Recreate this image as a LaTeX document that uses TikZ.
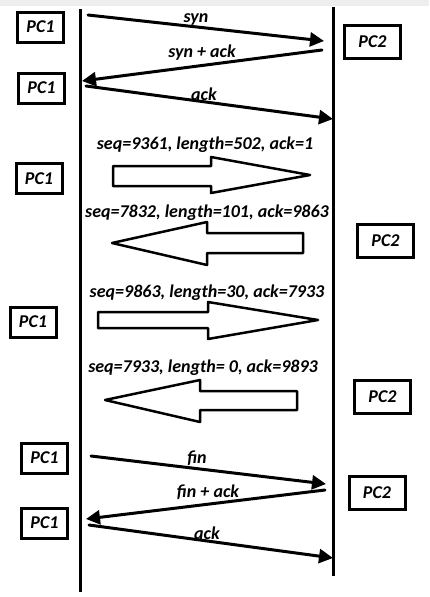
\documentclass[tikz,border=0pt]{standalone}
\usepackage{fontspec}
\setmainfont{Carlito}
\usepackage{xcolor}
\usetikzlibrary{arrows.meta}
\definecolor{ink}{HTML}{000000}
\definecolor{strip}{HTML}{EEEEEE}
\tikzset{
  life/.style={draw=ink, line width=3pt},
  msg/.style={draw=ink, line width=3pt, line cap=round, -{Triangle[length=14pt,width=14pt]}},
  blk/.style={draw=ink, fill=white, line width=2.5pt, line join=round},
  lab/.style={text=ink, font=\fontsize{18}{21}\selectfont\bfseries\itshape, inner sep=0pt},
  pcone/.style={lab, draw=ink, line width=3pt, minimum width=46pt, minimum height=30pt},
  pctwo/.style={lab, draw=ink, line width=3pt, minimum width=56pt, minimum height=33pt},
}
\begin{document}
\begin{tikzpicture}[x=1pt,y=-1pt]
  \useasboundingbox (0,0) rectangle (429,597);
  \fill[strip] (0,0) rectangle (429,6);

  % lifelines
  \coordinate (L1) at (80,9);
  \coordinate (L2) at (80,592);
  \coordinate (R1) at (333,7);
  \coordinate (R2) at (333,576);
  \draw[life] (L1)--(L2);
  \draw[life] (R1)--(R2);

  % hosts
  \node[pcone] (pcA) at (40.5,27) {PC1};
  \node[pctwo] (pcB) at (372.5,42) {PC2};
  \node[pcone] (pcC) at (41.5,88) {PC1};
  \node[pcone] (pcD) at (39,178.5) {PC1};
  \node[pctwo] (pcE) at (385.5,241) {PC2};
  \node[pcone] (pcF) at (33,322) {PC1};
  \node[pctwo] (pcG) at (382.5,397) {PC2};
  \node[pcone] (pcH) at (44.5,458) {PC1};
  \node[pctwo] (pcI) at (377,493) {PC2};
  \node[pcone] (pcJ) at (44.5,523) {PC1};

  % handshake
  \coordinate (synS) at (88,15);
  \coordinate (synE) at (324,41);
  \coordinate (saS) at (322,50);
  \coordinate (saE) at (82,81);
  \coordinate (ackS) at (86,86);
  \coordinate (ackE) at (333,119);
  \draw[msg] (synS)--(synE);
  \draw[msg] (saS)--(saE);
  \draw[msg] (ackS)--(ackE);
  \node[lab] (synL) at (196,19) {syn};
  \node[lab] (saL) at (202,53) {syn + ack};
  \node[lab] (ackL) at (204,94) {ack};

  % data segments
  \draw[blk] (113,166)--(211,166)--(211,157)--(310,175)--(211,193)--(211,186)--(113,186)--cycle;
  \node[lab] (segA) at (205,145) {seq=9361, length=502, ack=1};
  \draw[blk] (303,233)--(207,233)--(207,222)--(112,243)--(207,265)--(207,253)--(303,253)--cycle;
  \node[lab] (segB) at (207,213) {seq=7832, length=101, ack=9863};
  \draw[blk] (98,312)--(208,312)--(208,302)--(318,320)--(208,339)--(208,328)--(98,328)--cycle;
  \node[lab] (segC) at (207,293) {seq=9863, length=30, ack=7933};
  \draw[blk] (297,391)--(200,391)--(200,380)--(105,400)--(200,422)--(200,410)--(297,410)--cycle;
  \node[lab] (segD) at (203,368) {seq=7933, length= 0, ack=9893};

  % teardown
  \coordinate (finS) at (91,456);
  \coordinate (finE) at (326,484);
  \coordinate (faS) at (325,490);
  \coordinate (faE) at (86,519);
  \coordinate (lastS) at (89,525);
  \coordinate (lastE) at (333,558);
  \draw[msg] (finS)--(finE);
  \draw[msg] (faS)--(faE);
  \draw[msg] (lastS)--(lastE);
  \node[lab] (finL) at (197,458) {fin};
  \node[lab] (faL) at (208,492) {fin + ack};
  \node[lab] (lastL) at (207,533) {ack};
\end{tikzpicture}
\end{document}
